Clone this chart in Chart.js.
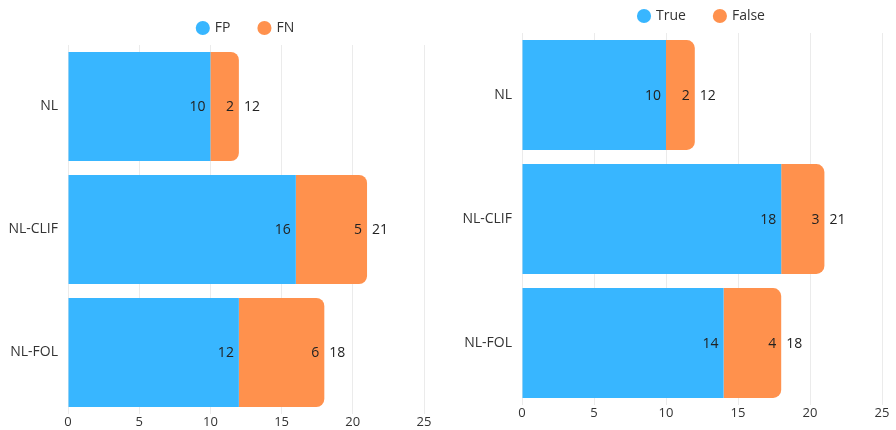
<!DOCTYPE html>
<html>
<head>
<meta charset="utf-8">
<script src="https://cdn.jsdelivr.net/npm/chart.js@4"></script>
<style>
  html, body { margin: 0; padding: 0; background: #fff; overflow: hidden; width: 896px; height: 430px; }
  .wrap { position: absolute; }
  #w1 { left: 0; top: -8px; width: 448px; height: 442px; }
  #w2 { left: 448px; top: -20px; width: 448px; height: 445px; }
</style>
</head>
<body>
<div class="wrap" id="w1"><canvas id="c1"></canvas></div>
<div class="wrap" id="w2"><canvas id="c2"></canvas></div>
<script>
const categories = ["NL", "NL-CLIF", "NL-FOL"];
const fpValues = [10, 16, 12];
const fnValues = [2, 5, 6];
const trueValues = [10, 18, 14];
const falseValues = [2, 3, 4];
const xTicks = [0, 5, 10, 15, 20, 25];

const BLUE = "#38B6FF";
const ORANGE = "#FF914D";
const FONT = "'Open Sans', sans-serif";
const TEXT = "#333333";

const labelPlugin = {
  id: "segLabels",
  afterLayout(chart) {
    if (chart.legend && chart.chartArea) {
      chart.legend.left = chart.chartArea.left;
      chart.legend.right = chart.chartArea.right;
    }
  },
  afterDatasetsDraw(chart) {
    const ctx = chart.ctx;
    ctx.save();
    ctx.font = "14px " + FONT;
    ctx.fillStyle = "#222";
    ctx.textBaseline = "middle";
    const n = chart.data.datasets.length;
    chart.data.datasets.forEach((ds, di) => {
      const meta = chart.getDatasetMeta(di);
      meta.data.forEach((el, i) => {
        ctx.textAlign = "right";
        ctx.fillText(String(ds.data[i]), el.x - 5, el.y + 1);
        if (di === n - 1) {
          let total = 0;
          chart.data.datasets.forEach(d => total += d.data[i]);
          ctx.textAlign = "left";
          ctx.fillText(String(total), el.x + 5, el.y + 1);
        }
      });
    });
    ctx.restore();
  }
};

function makeChart(id, names, a, b, yWidth, padRight) {
  return new Chart(document.getElementById(id), {
    type: "bar",
    data: {
      labels: categories,
      datasets: [
        { label: names[0], data: a, backgroundColor: BLUE, borderWidth: 0, borderRadius: 0,
          barPercentage: 0.886, categoryPercentage: 1 },
        { label: names[1], data: b, backgroundColor: ORANGE, borderWidth: 0, borderRadius: 8,
          borderSkipped: "start", barPercentage: 0.886, categoryPercentage: 1 }
      ]
    },
    options: {
      indexAxis: "y",
      responsive: true,
      maintainAspectRatio: false,
      animation: false,
      layout: { padding: { left: 0, right: padRight, top: 0, bottom: 0 } },
      plugins: {
        legend: {
          display: true,
          position: "top",
          labels: {
            usePointStyle: true,
            pointStyle: "circle",
            boxWidth: 10,
            boxHeight: 10,
            padding: 29,
            color: TEXT,
            font: { family: FONT, size: 14 }
          }
        },
        tooltip: { enabled: false }
      },
      scales: {
        x: {
          stacked: true,
          min: 0,
          max: 25,
          afterBuildTicks(scale) { scale.ticks = xTicks.map(v => ({ value: v })); },
          afterFit(scale) { scale.height = 20; },
          grid: { display: true, color: "#ebebeb", lineWidth: 1, drawTicks: false },
          border: { display: false },
          ticks: { color: TEXT, font: { family: FONT, size: 13 }, padding: 0 }
        },
        y: {
          stacked: true,
          afterFit(scale) { scale.width = yWidth; },
          grid: { display: false, drawTicks: false },
          border: { display: false },
          ticks: { color: TEXT, font: { family: FONT, size: 14 }, padding: 10 }
        }
      }
    },
    plugins: [labelPlugin]
  });
}

makeChart("c1", ["FP", "FN"], fpValues, fnValues, 68, 24);
makeChart("c2", ["True", "False"], trueValues, falseValues, 74, 14);
</script>
</body>
</html>
